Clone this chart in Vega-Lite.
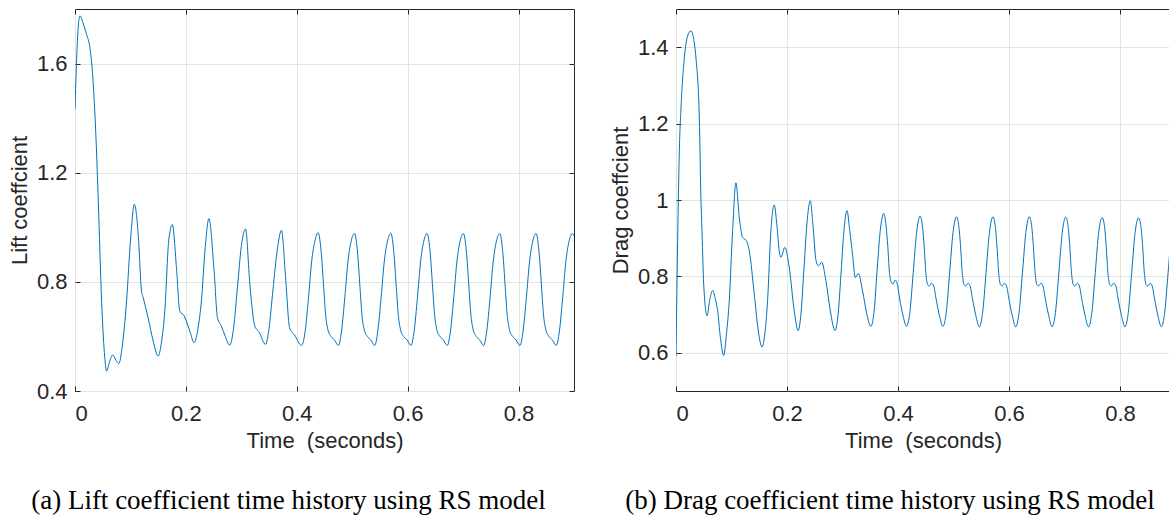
{
  "$schema": "https://vega.github.io/schema/vega-lite/v6.json",
  "background": "white",
  "padding": {"left": 7, "top": 8, "right": 0, "bottom": 0},
  "spacing": 33,
  "config": {
    "view": {"stroke": "#262626", "strokeWidth": 1},
    "axis": {
      "labelFont": "Liberation Sans", "labelFontSize": 22, "labelColor": "#262626",
      "titleFont": "Liberation Sans", "titleFontSize": 22, "titleFontWeight": "normal", "titleColor": "#262626",
      "gridColor": "#e3e3e3", "gridWidth": 1, "domain": false,
      "tickColor": "#262626", "tickSize": -5, "tickWidth": 1
    },
    "axisX": {"titlePadding": 6, "labelPadding": 17},
    "axisY": {"titlePadding": 5, "labelPadding": 13},
    "title": {"font": "Liberation Serif", "fontSize": 27, "fontWeight": "normal", "color": "#000000", "orient": "bottom", "anchor": "middle"}
  },
  "datasets": {
    "lift": [
      {"t":0,"v":1.432},{"t":0.003,"v":1.62},{"t":0.006,"v":1.74},{"t":0.009,"v":1.775},{"t":0.015,"v":1.745},
      {"t":0.021,"v":1.706},{"t":0.027,"v":1.657},{"t":0.033,"v":1.523},{"t":0.038,"v":1.32},{"t":0.042,"v":1.096},
      {"t":0.048,"v":0.73},{"t":0.053,"v":0.54},{"t":0.057,"v":0.473},{"t":0.062,"v":0.505},{"t":0.068,"v":0.532},
      {"t":0.074,"v":0.512},{"t":0.079,"v":0.5},{"t":0.085,"v":0.56},{"t":0.093,"v":0.73},{"t":0.1,"v":0.95},
      {"t":0.107,"v":1.084},{"t":0.114,"v":0.974},{"t":0.12,"v":0.766},{"t":0.123,"v":0.742},{"t":0.132,"v":0.668},
      {"t":0.141,"v":0.583},{"t":0.15,"v":0.528},{"t":0.156,"v":0.58},{"t":0.162,"v":0.693},{"t":0.169,"v":0.95},
      {"t":0.1755,"v":1.01},{"t":0.183,"v":0.852},{"t":0.189,"v":0.693},{"t":0.197,"v":0.675},{"t":0.207,"v":0.62},
      {"t":0.215,"v":0.577},{"t":0.221,"v":0.62},{"t":0.228,"v":0.73},{"t":0.235,"v":0.93},{"t":0.2415,"v":1.032},
      {"t":0.2505,"v":0.852},{"t":0.257,"v":0.668},{"t":0.264,"v":0.638},{"t":0.271,"v":0.6},{"t":0.279,"v":0.568},
      {"t":0.286,"v":0.63},{"t":0.293,"v":0.78},{"t":0.3,"v":0.93},{"t":0.3076,"v":0.994},{"t":0.3154,"v":0.79},
      {"t":0.3243,"v":0.638},{"t":0.332,"v":0.616},{"t":0.3436,"v":0.571},{"t":0.35,"v":0.63},{"t":0.357,"v":0.77},
      {"t":0.365,"v":0.92},{"t":0.3724,"v":0.989},{"t":0.38,"v":0.81},{"t":0.387,"v":0.632},{"t":0.396,"v":0.605},
      {"t":0.4085,"v":0.567},{"t":0.4152,"v":0.62},{"t":0.4211,"v":0.742},{"t":0.4269,"v":0.876},{"t":0.4327,"v":0.95},
      {"t":0.4386,"v":0.98},{"t":0.4444,"v":0.9},{"t":0.4485,"v":0.78},{"t":0.452,"v":0.68},{"t":0.456,"v":0.626},
      {"t":0.4617,"v":0.6},{"t":0.4676,"v":0.588},{"t":0.4751,"v":0.567},{"t":0.4807,"v":0.62},{"t":0.4866,"v":0.742},
      {"t":0.4924,"v":0.876},{"t":0.4982,"v":0.95},
      {"t":0.5041,"v":0.978},{"t":0.5099,"v":0.9},{"t":0.514,"v":0.78},{"t":0.5175,"v":0.68},{"t":0.5215,"v":0.626},
      {"t":0.5272,"v":0.6},{"t":0.5331,"v":0.588},{"t":0.5406,"v":0.567},{"t":0.5462,"v":0.62},{"t":0.5521,"v":0.742},
      {"t":0.5579,"v":0.876},{"t":0.5637,"v":0.95},
      {"t":0.5696,"v":0.978},{"t":0.5754,"v":0.9},{"t":0.5795,"v":0.78},{"t":0.583,"v":0.68},{"t":0.587,"v":0.626},
      {"t":0.5927,"v":0.6},{"t":0.5986,"v":0.588},{"t":0.6061,"v":0.567},{"t":0.6117,"v":0.62},{"t":0.6176,"v":0.742},
      {"t":0.6234,"v":0.876},{"t":0.6292,"v":0.95},
      {"t":0.6351,"v":0.977},{"t":0.6409,"v":0.9},{"t":0.645,"v":0.78},{"t":0.6485,"v":0.68},{"t":0.6525,"v":0.626},
      {"t":0.6582,"v":0.6},{"t":0.6641,"v":0.588},{"t":0.6716,"v":0.567},{"t":0.6772,"v":0.62},{"t":0.6831,"v":0.742},
      {"t":0.6889,"v":0.876},{"t":0.6947,"v":0.95},
      {"t":0.7006,"v":0.977},{"t":0.7064,"v":0.9},{"t":0.7105,"v":0.78},{"t":0.714,"v":0.68},{"t":0.718,"v":0.626},
      {"t":0.7237,"v":0.6},{"t":0.7296,"v":0.588},{"t":0.7371,"v":0.567},{"t":0.7427,"v":0.62},{"t":0.7486,"v":0.742},
      {"t":0.7544,"v":0.876},{"t":0.7602,"v":0.95},
      {"t":0.7661,"v":0.977},{"t":0.7719,"v":0.9},{"t":0.776,"v":0.78},{"t":0.7795,"v":0.68},{"t":0.7835,"v":0.626},
      {"t":0.7892,"v":0.6},{"t":0.7951,"v":0.588},{"t":0.8026,"v":0.567},{"t":0.8082,"v":0.62},{"t":0.8141,"v":0.742},
      {"t":0.8199,"v":0.876},{"t":0.8257,"v":0.95},
      {"t":0.8316,"v":0.977},{"t":0.8374,"v":0.9},{"t":0.8415,"v":0.78},{"t":0.845,"v":0.68},{"t":0.849,"v":0.626},
      {"t":0.8547,"v":0.6},{"t":0.8606,"v":0.588},{"t":0.8681,"v":0.567},{"t":0.8737,"v":0.62},{"t":0.8796,"v":0.742},
      {"t":0.8854,"v":0.876},{"t":0.8912,"v":0.95},{"t":0.8971,"v":0.977},{"t":0.9,"v":0.968}
    ],
    "drag": [
      {"t":0,"v":0.59},{"t":0.002,"v":0.8},{"t":0.004,"v":0.98},{"t":0.006,"v":1.128},{"t":0.009,"v":1.241},
      {"t":0.015,"v":1.372},{"t":0.021,"v":1.43},{"t":0.027,"v":1.443},{"t":0.032,"v":1.42},{"t":0.036,"v":1.372},
      {"t":0.042,"v":1.215},{"t":0.045,"v":0.998},{"t":0.047,"v":0.911},{"t":0.0499,"v":0.78},{"t":0.0559,"v":0.697},
      {"t":0.061,"v":0.74},{"t":0.066,"v":0.763},{"t":0.071,"v":0.74},{"t":0.075,"v":0.71},{"t":0.08,"v":0.64},
      {"t":0.0859,"v":0.593},{"t":0.091,"v":0.65},{"t":0.096,"v":0.737},{"t":0.102,"v":0.92},{"t":0.108,"v":1.045},
      {"t":0.114,"v":0.954},{"t":0.12,"v":0.902},{"t":0.126,"v":0.895},{"t":0.132,"v":0.867},{"t":0.141,"v":0.754},
      {"t":0.148,"v":0.66},{"t":0.155,"v":0.615},{"t":0.16,"v":0.65},{"t":0.165,"v":0.737},{"t":0.171,"v":0.92},
      {"t":0.177,"v":0.987},{"t":0.182,"v":0.93},{"t":0.186,"v":0.867},{"t":0.189,"v":0.85},{"t":0.196,"v":0.876},
      {"t":0.204,"v":0.824},{"t":0.213,"v":0.71},{"t":0.22,"v":0.658},{"t":0.225,"v":0.7},{"t":0.2307,"v":0.824},
      {"t":0.236,"v":0.94},{"t":0.242,"v":0.998},{"t":0.247,"v":0.93},{"t":0.2523,"v":0.841},{"t":0.2565,"v":0.828},
      {"t":0.2625,"v":0.837},{"t":0.27,"v":0.789},{"t":0.278,"v":0.71},{"t":0.2865,"v":0.658},{"t":0.292,"v":0.7},
      {"t":0.297,"v":0.8},{"t":0.302,"v":0.91},{"t":0.3081,"v":0.972},{"t":0.313,"v":0.92},{"t":0.318,"v":0.858},
      {"t":0.3231,"v":0.797},{"t":0.3285,"v":0.808},{"t":0.336,"v":0.763},{"t":0.344,"v":0.7},{"t":0.351,"v":0.669},
      {"t":0.357,"v":0.71},{"t":0.362,"v":0.81},{"t":0.368,"v":0.92},
      {"t":0.3742,"v":0.965},{"t":0.3785,"v":0.932},{"t":0.3815,"v":0.88},{"t":0.3846,"v":0.81},{"t":0.3877,"v":0.785},
      {"t":0.3907,"v":0.78},{"t":0.395,"v":0.79},{"t":0.3987,"v":0.78},{"t":0.403,"v":0.741},{"t":0.4091,"v":0.697},
      {"t":0.4152,"v":0.669},{"t":0.4213,"v":0.706},{"t":0.4274,"v":0.81},{"t":0.4335,"v":0.915},
      {"t":0.4398,"v":0.958},{"t":0.4441,"v":0.93},{"t":0.4471,"v":0.878},{"t":0.4502,"v":0.808},{"t":0.4533,"v":0.779},
      {"t":0.4563,"v":0.775},{"t":0.4606,"v":0.782},{"t":0.4643,"v":0.775},{"t":0.4686,"v":0.741},{"t":0.4747,"v":0.697},
      {"t":0.4808,"v":0.669},{"t":0.4869,"v":0.706},{"t":0.493,"v":0.81},{"t":0.4991,"v":0.915},
      {"t":0.5054,"v":0.956},{"t":0.5097,"v":0.93},{"t":0.5127,"v":0.878},{"t":0.5158,"v":0.808},{"t":0.5189,"v":0.779},
      {"t":0.5219,"v":0.775},{"t":0.5262,"v":0.782},{"t":0.5299,"v":0.775},{"t":0.5342,"v":0.741},{"t":0.5403,"v":0.697},
      {"t":0.5464,"v":0.668},{"t":0.5525,"v":0.706},{"t":0.5586,"v":0.81},{"t":0.5647,"v":0.915},
      {"t":0.571,"v":0.956},{"t":0.5753,"v":0.93},{"t":0.5783,"v":0.878},{"t":0.5814,"v":0.808},{"t":0.5845,"v":0.779},
      {"t":0.5875,"v":0.775},{"t":0.5918,"v":0.782},{"t":0.5955,"v":0.775},{"t":0.5998,"v":0.741},{"t":0.6059,"v":0.697},
      {"t":0.612,"v":0.668},{"t":0.6181,"v":0.706},{"t":0.6242,"v":0.81},{"t":0.6303,"v":0.915},
      {"t":0.6366,"v":0.956},{"t":0.6409,"v":0.93},{"t":0.6439,"v":0.878},{"t":0.647,"v":0.808},{"t":0.6501,"v":0.779},
      {"t":0.6531,"v":0.775},{"t":0.6574,"v":0.782},{"t":0.6611,"v":0.775},{"t":0.6654,"v":0.741},{"t":0.6715,"v":0.697},
      {"t":0.6776,"v":0.668},{"t":0.6837,"v":0.706},{"t":0.6898,"v":0.81},{"t":0.6959,"v":0.915},
      {"t":0.7022,"v":0.955},{"t":0.7065,"v":0.93},{"t":0.7095,"v":0.878},{"t":0.7126,"v":0.808},{"t":0.7157,"v":0.779},
      {"t":0.7187,"v":0.775},{"t":0.723,"v":0.782},{"t":0.7267,"v":0.775},{"t":0.731,"v":0.741},{"t":0.7371,"v":0.697},
      {"t":0.7432,"v":0.668},{"t":0.7493,"v":0.706},{"t":0.7554,"v":0.81},{"t":0.7615,"v":0.915},
      {"t":0.7678,"v":0.954},{"t":0.7721,"v":0.93},{"t":0.7751,"v":0.878},{"t":0.7782,"v":0.808},{"t":0.7813,"v":0.779},
      {"t":0.7843,"v":0.775},{"t":0.7886,"v":0.782},{"t":0.7923,"v":0.775},{"t":0.7966,"v":0.741},{"t":0.8027,"v":0.697},
      {"t":0.8088,"v":0.668},{"t":0.8149,"v":0.706},{"t":0.821,"v":0.81},{"t":0.8271,"v":0.915},
      {"t":0.8334,"v":0.953},{"t":0.8377,"v":0.93},{"t":0.8407,"v":0.878},{"t":0.8438,"v":0.808},{"t":0.8469,"v":0.779},
      {"t":0.8499,"v":0.775},{"t":0.8542,"v":0.782},{"t":0.8579,"v":0.775},{"t":0.8622,"v":0.741},{"t":0.8683,"v":0.697},
      {"t":0.8744,"v":0.668},{"t":0.8805,"v":0.706},{"t":0.8866,"v":0.81},{"t":0.8927,"v":0.915},{"t":0.899,"v":0.953}
    ]
  },
  "hconcat": [
    {
      "width": 499, "height": 382,
      "title": {"text": "(a) Lift coefficient time history using RS model", "dx": -36, "offset": 37},
      "data": {"name": "lift"},
      "layer": [
        {
          "mark": {"type": "line", "color": "#0072BD", "strokeWidth": 1, "interpolate": "monotone", "clip": true},
          "encoding": {
            "x": {"field": "t", "type": "quantitative", "scale": {"domain": [0, 0.9], "nice": false},
                  "axis": {"title": "Time \u00a0(seconds)", "values": [0, 0.2, 0.4, 0.6, 0.8], "format": "~g"}},
            "y": {"field": "v", "type": "quantitative", "scale": {"domain": [0.4, 1.8], "nice": false, "zero": false},
                  "axis": {"title": "Lift coeffcient", "values": [0.4, 0.8, 1.2, 1.6], "format": "~g"}}
          }
        },
        {
          "mark": {"type": "line", "opacity": 0},
          "encoding": {
            "x": {"field": "t", "type": "quantitative",
                  "axis": {"orient": "top", "labels": false, "title": null, "grid": false, "values": [0, 0.2, 0.4, 0.6, 0.8]}},
            "y": {"field": "v", "type": "quantitative",
                  "axis": {"orient": "right", "labels": false, "title": null, "grid": false, "values": [0.4, 0.8, 1.2, 1.6]}}
          }
        }
      ],
      "resolve": {"axis": {"x": "independent", "y": "independent"}}
    },
    {
      "width": 494, "height": 382,
      "title": {"text": "(b) Drag coefficient time history using RS model", "dx": -33, "offset": 37},
      "data": {"name": "drag"},
      "layer": [
        {
          "mark": {"type": "line", "color": "#0072BD", "strokeWidth": 1, "interpolate": "monotone", "clip": true},
          "encoding": {
            "x": {"field": "t", "type": "quantitative", "scale": {"domain": [0, 0.89], "nice": false},
                  "axis": {"title": "Time \u00a0(seconds)", "values": [0, 0.2, 0.4, 0.6, 0.8], "format": "~g"}},
            "y": {"field": "v", "type": "quantitative", "scale": {"domain": [0.5, 1.5], "nice": false, "zero": false},
                  "axis": {"title": "Drag coeffcient", "values": [0.6, 0.8, 1, 1.2, 1.4], "format": "~g"}}
          }
        },
        {
          "mark": {"type": "line", "opacity": 0},
          "encoding": {
            "x": {"field": "t", "type": "quantitative",
                  "axis": {"orient": "top", "labels": false, "title": null, "grid": false, "values": [0, 0.2, 0.4, 0.6, 0.8]}},
            "y": {"field": "v", "type": "quantitative"}
          }
        }
      ],
      "resolve": {"axis": {"x": "independent"}}
    }
  ]
}
